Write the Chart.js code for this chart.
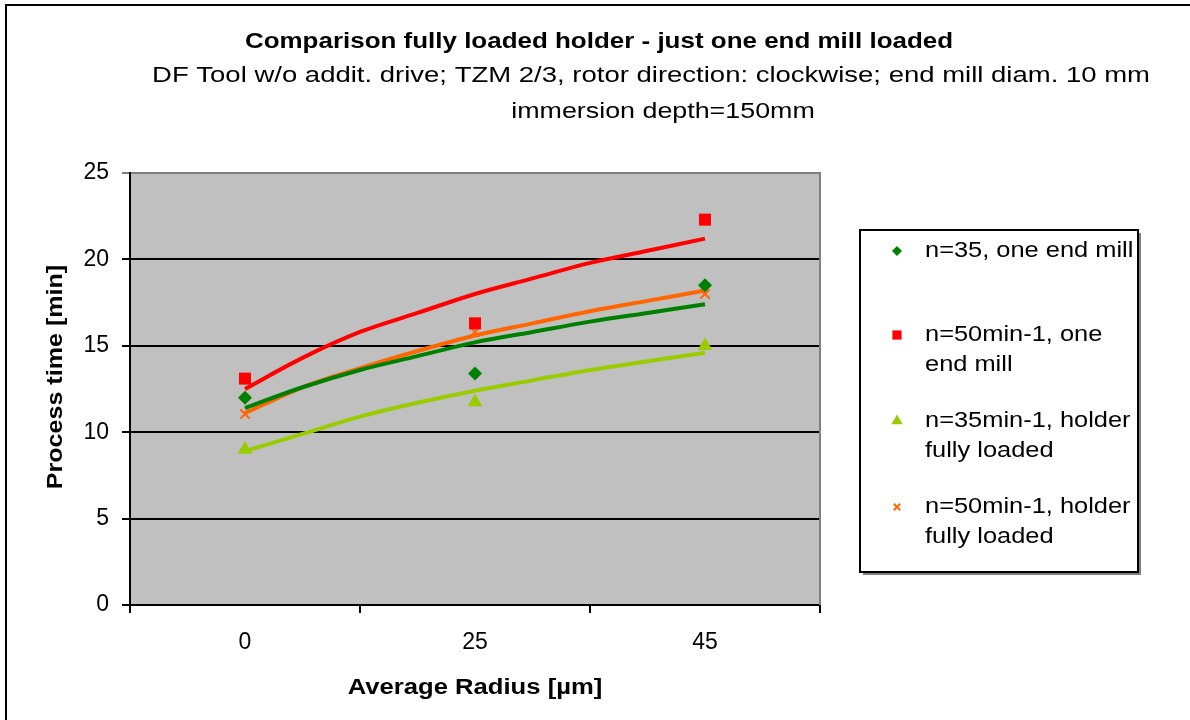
<!DOCTYPE html>
<html>
<head>
<meta charset="utf-8">
<script src="https://cdn.jsdelivr.net/npm/chart.js@4.4.1/dist/chart.umd.min.js"></script>
<style>
  html, body { margin: 0; padding: 0; background: #fff; }
  #wrap { width: 1190px; height: 720px; }
</style>
</head>
<body>
<div id="wrap"><canvas id="processChart" width="1190" height="720"></canvas></div>
<script>
// categories on the x axis (placed at positions 1, 2, 3)
const categories = ["0", "25", "45"];
const catPos = [1, 2, 3];

// measured values
const oneMill35 = [12.0, 13.4, 18.5];
const oneMill50 = [13.1, 16.3, 22.3];
const fullHolder35 = [9.0, 11.75, 15.0];
const fullHolder50 = [11.05, 15.8, 18.0];

// trend lines
const trendX = [1, 1.25, 1.5, 1.75, 2, 2.25, 2.5, 2.75, 3];
const trendOneMill35 = [11.4, 12.6, 13.6, 14.4, 15.2, 15.8, 16.4, 16.9, 17.4];
const trendOneMill50 = [12.5, 14.3, 15.8, 16.9, 18.0, 18.9, 19.8, 20.5, 21.2];
const trendFull35 = [8.9, 9.9, 10.9, 11.7, 12.4, 13.0, 13.6, 14.1, 14.6];
const trendFull50 = [11.1, 12.6, 13.7, 14.7, 15.6, 16.3, 17.0, 17.6, 18.2];

const yTicks = [0, 5, 10, 15, 20, 25];

const titleLines = [
  "Comparison fully loaded holder - just one end mill loaded",
  "DF Tool w/o addit. drive; TZM 2/3, rotor direction: clockwise; end mill diam. 10 mm",
  "immersion depth=150mm"
];
const xTitle = "Average Radius [µm]";
const yTitle = "Process time [min]";
const legendLabels = [
  ["n=35, one end mill"],
  ["n=50min-1, one", "end mill"],
  ["n=35min-1, holder", "fully loaded"],
  ["n=50min-1, holder", "fully loaded"]
];

const FONT = "'Liberation Sans', Arial, sans-serif";
const GREEN = "#008000", RED = "#FF0000", LIME = "#99CC00", ORANGE = "#FF6600";

function pts(xs, ys) { return xs.map((x, i) => ({ x: x, y: ys[i] })); }

function markerSet(label, ys, color, style, r) {
  return {
    type: 'scatter', label: label, data: pts(catPos, ys), order: 0,
    pointStyle: style, pointRadius: r, pointHoverRadius: r,
    backgroundColor: color, borderColor: color,
    pointBorderWidth: style === 'crossRot' ? 2 : 0, showLine: false
  };
}
function trendSet(ys, color) {
  return {
    type: 'line', label: '', data: pts(trendX, ys), order: 1,
    borderColor: color, borderWidth: 4, pointRadius: 0, fill: false,
    cubicInterpolationMode: 'monotone'
  };
}

const markers = [
  markerSet(legendLabels[0].join(' '), oneMill35, GREEN, 'rectRot', 7),
  markerSet(legendLabels[1].join(' '), oneMill50, RED, 'rect', 8.5),
  markerSet(legendLabels[2].join(' '), fullHolder35, LIME, 'triangle', 8.5),
  markerSet(legendLabels[3].join(' '), fullHolder50, ORANGE, 'crossRot', 6.5)
];

// the original text is a little wider than Arial, so stretch it horizontally
function wideText(ctx, text, x, y, sx, rot) {
  ctx.save();
  ctx.translate(x, y);
  if (rot) ctx.rotate(rot);
  ctx.scale(sx, 1);
  ctx.fillText(text, 0, 0);
  ctx.restore();
}

const chartDecor = {
  id: 'chartDecor',
  beforeDraw(chart) {
    const ctx = chart.ctx, a = chart.chartArea;
    ctx.save();
    ctx.fillStyle = '#fff';
    ctx.fillRect(0, 0, chart.width, chart.height);
    // outer chart border (only top and left are inside the picture)
    ctx.strokeStyle = '#000';
    ctx.lineWidth = 2;
    ctx.strokeRect(6, 5, chart.width + 20, chart.height + 20);
    ctx.fillStyle = '#C0C0C0';
    ctx.fillRect(a.left, a.top, a.right - a.left, a.bottom - a.top);
    ctx.restore();
  },
  afterDraw(chart) {
    const ctx = chart.ctx, a = chart.chartArea;
    ctx.save();
    // plot area right border
    ctx.strokeStyle = '#808080';
    ctx.lineWidth = 2;
    ctx.beginPath();
    ctx.moveTo(a.right, a.top - 1);
    ctx.lineTo(a.right, a.bottom);
    ctx.stroke();

    // titles
    ctx.fillStyle = '#000';
    ctx.textAlign = 'center';
    ctx.textBaseline = 'middle';
    ctx.font = 'bold 22px ' + FONT;
    wideText(ctx, titleLines[0], 599, 42, 1.18);
    ctx.font = '22px ' + FONT;
    wideText(ctx, titleLines[1], 651, 76, 1.25);
    wideText(ctx, titleLines[2], 663, 112, 1.22);

    // axis titles
    ctx.font = 'bold 22px ' + FONT;
    wideText(ctx, xTitle, 475, 688, 1.165);
    wideText(ctx, yTitle, 56, 377, 1.14, -Math.PI / 2);

    // legend box with shadow
    const lx = 860, ly = 230, lw = 278, lh = 342;
    ctx.fillStyle = '#808080';
    ctx.fillRect(lx + 3, ly + 3, lw, lh);
    ctx.fillStyle = '#fff';
    ctx.fillRect(lx, ly, lw, lh);
    ctx.strokeStyle = '#000';
    ctx.lineWidth = 2;
    ctx.strokeRect(lx, ly, lw, lh);

    const rowTop = [251, 335, 421, 507];
    const legendR = [5, 6.5, 6.5, 4.5];
    ctx.font = '22px ' + FONT;
    ctx.textAlign = 'left';
    legendLabels.forEach((lines, i) => {
      const ds = markers[i];
      ctx.fillStyle = ds.backgroundColor;
      ctx.strokeStyle = ds.borderColor;
      ctx.lineWidth = ds.pointBorderWidth || 0.01;
      Chart.helpers.drawPoint(ctx, {
        pointStyle: ds.pointStyle, radius: legendR[i], rotation: 0,
        borderWidth: ds.pointBorderWidth || 0.01
      }, 897, rowTop[i]);
      ctx.fillStyle = '#000';
      lines.forEach((t, j) => wideText(ctx, t, 925, rowTop[i] + j * 30, 1.155));
    });
    ctx.restore();
  }
};

new Chart(document.getElementById('processChart'), {
  data: {
    datasets: [
      ...markers,
      trendSet(trendOneMill35, GREEN),
      trendSet(trendOneMill50, RED),
      trendSet(trendFull35, LIME),
      trendSet(trendFull50, ORANGE)
    ]
  },
  options: {
    responsive: false,
    animation: false,
    layout: { padding: { top: 173, right: 370, left: 0, bottom: 0 } },
    plugins: { legend: { display: false }, title: { display: false }, tooltip: { enabled: false } },
    scales: {
      x: {
        type: 'linear', min: 0.5, max: 3.5,
        afterBuildTicks(scale) {
          scale.ticks = [0.5, 1, 1.5, 2, 2.5, 3, 3.5].map(v => ({ value: v }));
        },
        afterFit(scale) { scale.height = 115; },
        ticks: {
          autoSkip: false, maxRotation: 0, padding: 16, color: '#000',
          font: { family: FONT, size: 23 },
          callback(v) {
            const i = catPos.indexOf(v);
            return i >= 0 ? categories[i] : '';
          }
        },
        grid: {
          drawOnChartArea: false, tickLength: 8, lineWidth: 2,
          color: ctx => (ctx.tick && Number.isInteger(ctx.tick.value)) ? 'rgba(0,0,0,0)' : '#000'
        },
        border: { display: true, color: '#000', width: 2 }
      },
      y: {
        min: 0, max: 25,
        afterBuildTicks(scale) { scale.ticks = yTicks.map(v => ({ value: v })); },
        afterFit(scale) { scale.width = 130; },
        ticks: { padding: 13, color: '#000', font: { family: FONT, size: 23 } },
        grid: {
          tickLength: 8, lineWidth: 2,
          color: ctx => (ctx.tick && ctx.tick.value === 25) ? '#808080' : '#000'
        },
        border: { display: true, color: '#000', width: 2 }
      }
    }
  },
  plugins: [chartDecor]
});
</script>
</body>
</html>
